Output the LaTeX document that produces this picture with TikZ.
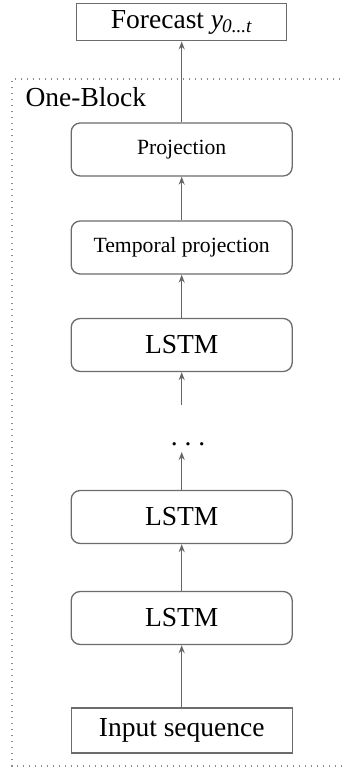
\documentclass[tikz,border=0pt]{standalone}
\usepackage{fontspec}
\setmainfont{Liberation Serif}
\usepackage{tikz}
\usetikzlibrary{arrows.meta,positioning}

\begin{document}
\begin{tikzpicture}[
  x=1pt, y=1pt,
  >={Stealth[length=8pt,width=6pt]},
  big/.style={font=\fontsize{27.5}{32}\selectfont},
  small/.style={font=\fontsize{21.7}{26}\selectfont},
  layer/.style={draw=gray!85!black, line width=1.3pt, rounded corners=9pt,
                minimum width=221pt, minimum height=53pt, inner sep=0pt},
  io/.style={draw=gray!85!black, line width=1.3pt, big,
             minimum width=221pt, minimum height=45pt, inner sep=0pt},
  flow/.style={->, draw=gray!80!black, line width=1.3pt},
  frame/.style={draw=gray!90, line width=1.4pt, dash pattern=on 1.4pt off 4.6pt},
]
  \useasboundingbox (0,0) rectangle (344,769);

  %% One-Block frame, open to the right
  \coordinate (fr_tr) at (352,690);
  \coordinate (fr_bl) at (12,3);
  \draw[frame] (fr_tr) -| (fr_bl) -- (fr_bl -| fr_tr);
  \node[big, anchor=base west] (blk) at (22,662) {One-Block};

  %% output
  \node[io, minimum width=210pt, minimum height=37.5pt] (fc) at (181.7,747)
    {Forecast \textit{y}\textsubscript{\kern-1pt\textit{0...t}}};

  %% stack of layers
  \node[layer, small] (proj) at (181.7,619.5) {Projection};
  \node[layer, small] (tproj) at (181.7,521.5) {Temporal projection};
  \node[layer, big] (lstm_a) at (181.7,424) {LSTM};
  \node[big, anchor=base] (gap) at (188,323) {.\ .\ .};
  \node[layer, big] (lstm_b) at (181.7,252) {LSTM};
  \node[layer, big] (lstm_c) at (181.7,151) {LSTM};

  %% input
  \node[io] (inp) at (181.7,38.5) {Input sequence};

  %% loose arrow ends around the dots
  \coordinate (gap_top) at (181.7,364);
  \coordinate (gap_bot) at (181.7,317);

  \draw[flow] (proj.north) -- (fc.south);
  \draw[flow] (tproj.north) -- (proj.south);
  \draw[flow] (lstm_a.north) -- (tproj.south);
  \draw[flow] (gap_top) -- (lstm_a.south);
  \draw[flow] (lstm_b.north) -- (gap_bot);
  \draw[flow] (lstm_c.north) -- (lstm_b.south);
  \draw[flow] (inp.north) -- (lstm_c.south);
\end{tikzpicture}
\end{document}
